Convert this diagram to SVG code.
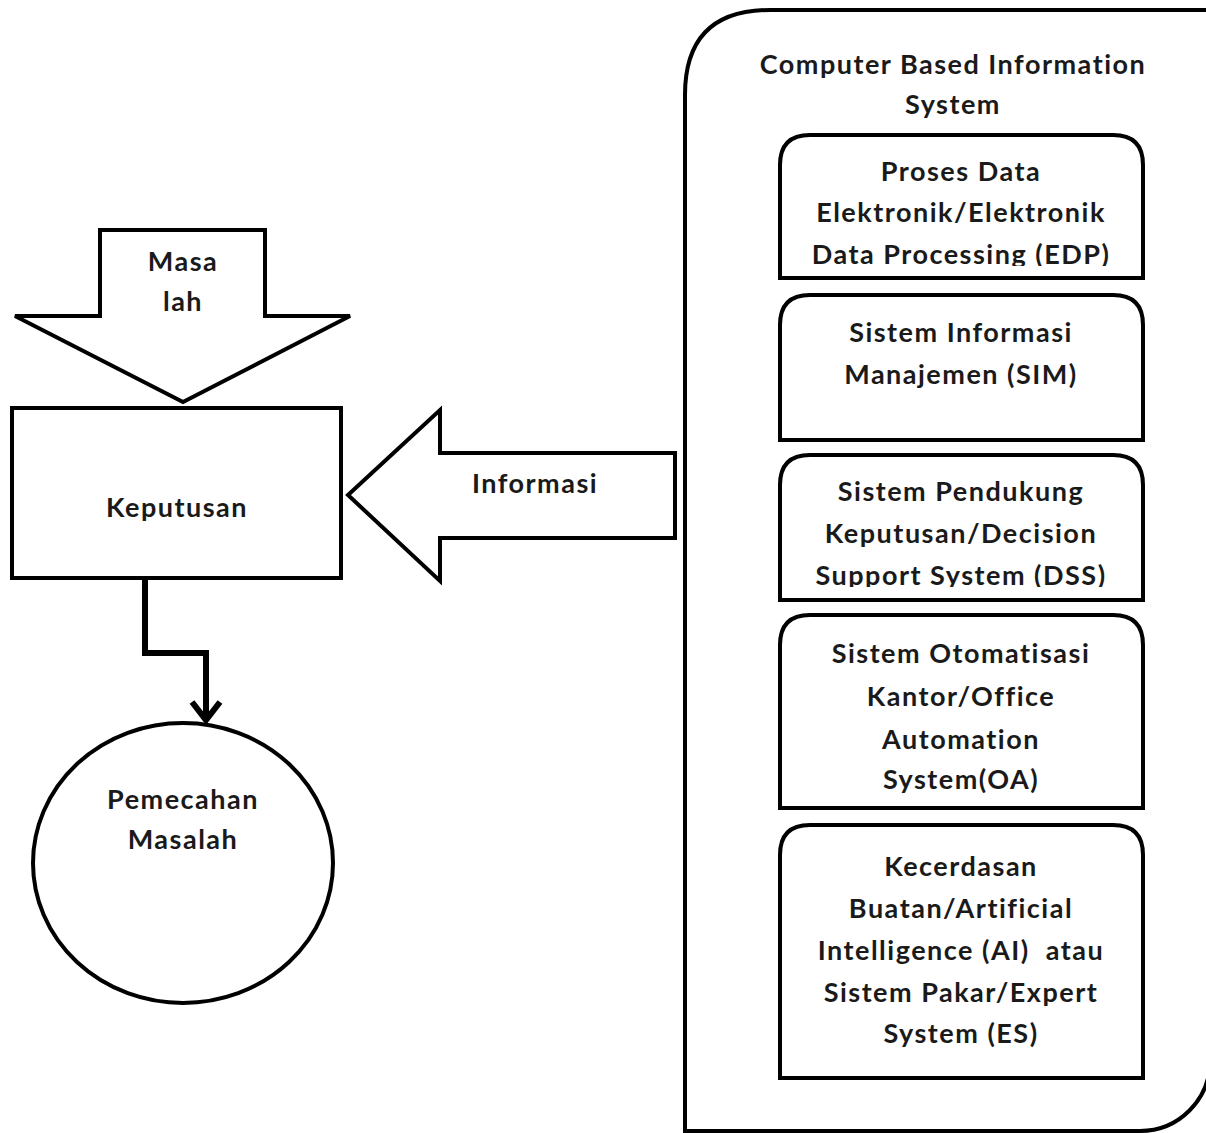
<svg xmlns="http://www.w3.org/2000/svg" width="1206" height="1133" viewBox="0 0 1206 1133">
<style>
.s{fill:#fff;stroke:#000;stroke-width:4;stroke-linejoin:miter}
.t{font-family:Lato,"Open Sans","Liberation Sans",sans-serif;font-size:27px;font-weight:700;letter-spacing:1.5px;fill:#1a1a1a;text-anchor:middle}
.c{fill:none;stroke:#000;stroke-width:6}
</style>
<defs>
<clipPath id="clip1"><rect x="780" y="135" width="363" height="131"/></clipPath>
<clipPath id="clip3"><rect x="780" y="455" width="363" height="132"/></clipPath>
<marker id="vh" markerUnits="userSpaceOnUse" markerWidth="40" markerHeight="40" refX="20" refY="20" orient="auto" viewBox="0 0 40 40">
<path d="M2,6 L20,20 L2,34" fill="none" stroke="#000" stroke-width="6"/>
</marker>
</defs>
<rect width="1206" height="1133" fill="#fff"/>

<g id="cbis">
<path class="s" d="M1212,10 L770,10 Q685,10 685,95 L685,1131 L1140,1131 A70,70 0 0 0 1210,1061" />
<text class="t" x="953" y="74">Computer Based Information</text>
<text class="t" x="953" y="114">System</text>
</g>

<g id="edp">
<path class="s" d="M780,278 L780,165 Q780,135 810,135 L1113,135 Q1143,135 1143,165 L1143,278 Z"/>
<g clip-path="url(#clip1)">
<text class="t" x="961" y="181">Proses Data</text>
<text class="t" x="961" y="222">Elektronik/Elektronik</text>
<text class="t" x="961" y="264">Data Processing (EDP)</text>
</g>
</g>

<g id="sim">
<path class="s" d="M780,440 L780,325 Q780,295 810,295 L1113,295 Q1143,295 1143,325 L1143,440 Z"/>
<text class="t" x="961" y="342">Sistem Informasi</text>
<text class="t" x="961" y="384">Manajemen (SIM)</text>
</g>

<g id="dss">
<path class="s" d="M780,600 L780,485 Q780,455 810,455 L1113,455 Q1143,455 1143,485 L1143,600 Z"/>
<g clip-path="url(#clip3)">
<text class="t" x="961" y="501">Sistem Pendukung</text>
<text class="t" x="961" y="543">Keputusan/Decision</text>
<text class="t" x="961" y="585">Support System (DSS)</text>
</g>
</g>

<g id="oa">
<path class="s" d="M780,808 L780,645 Q780,615 810,615 L1113,615 Q1143,615 1143,645 L1143,808 Z"/>
<text class="t" x="961" y="663">Sistem Otomatisasi</text>
<text class="t" x="961" y="706">Kantor/Office</text>
<text class="t" x="961" y="749">Automation</text>
<text class="t" x="961" y="789">System(OA)</text>
</g>

<g id="ai">
<path class="s" d="M780,1078 L780,855 Q780,825 810,825 L1113,825 Q1143,825 1143,855 L1143,1078 Z"/>
<text class="t" x="961" y="876">Kecerdasan</text>
<text class="t" x="961" y="918">Buatan/Artificial</text>
<text class="t" x="961" y="960" xml:space="preserve">Intelligence (AI)  atau</text>
<text class="t" x="961" y="1002">Sistem Pakar/Expert</text>
<text class="t" x="961" y="1043">System (ES)</text>
</g>

<g id="masalah">
<path class="s" d="M100,230 L265,230 L265,316 L350,316 L183,402 L15,316 L100,316 Z"/>
<text class="t" x="183" y="271">Masa</text>
<text class="t" x="183" y="311">lah</text>
</g>

<g id="keputusan">
<rect class="s" x="12" y="408" width="329" height="170"/>
<text class="t" x="177" y="517">Keputusan</text>
</g>

<g id="informasi">
<path class="s" d="M675,453 L675,538 L440,538 L440,581 L348,495 L440,410 L440,453 Z"/>
<text class="t" x="535" y="493">Informasi</text>
</g>

<g id="pemecahan">
<ellipse class="s" cx="183" cy="863" rx="150" ry="140"/>
<text class="t" x="183" y="809">Pemecahan</text>
<text class="t" x="183" y="849">Masalah</text>
</g>

<g id="connectors">
<path class="c" d="M145,578 L145,653 L206,653 L206,720" marker-end="url(#vh)"/>
</g>
</svg>
